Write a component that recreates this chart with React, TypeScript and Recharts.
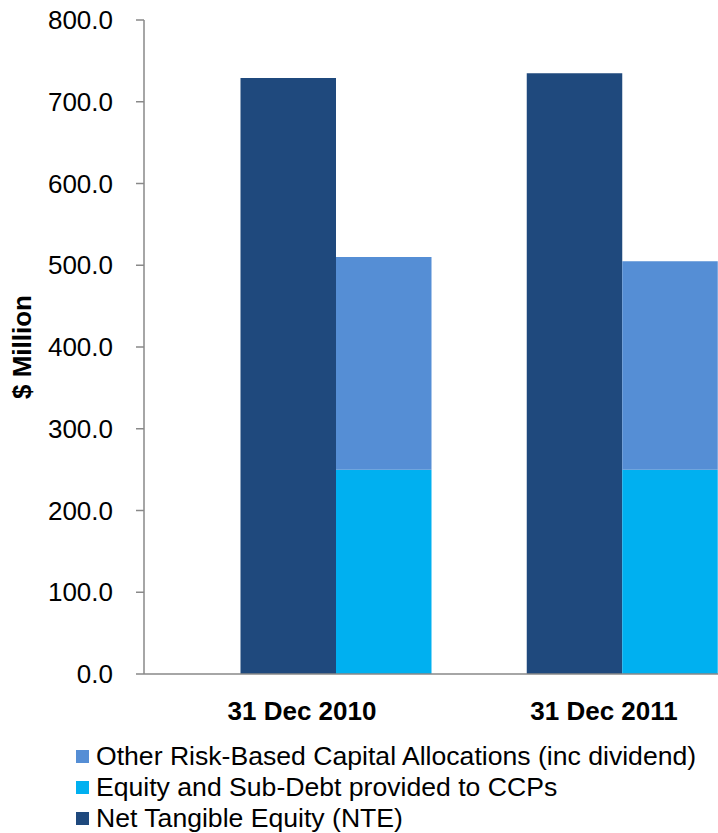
import React from 'react';
import { BarChart, Bar, XAxis, YAxis, Legend } from 'recharts';

const categories = ['31 Dec 2010', '31 Dec 2011'];
const netTangibleEquity = [729, 735];
const equitySubDebt = [250, 250];
const otherRiskCapital = [260, 255];
const yTicks = [0, 100, 200, 300, 400, 500, 600, 700, 800];

const NAVY = '#1F497D';
const CYAN = '#00B0F0';
const MID_BLUE = '#558ED5';
const AXIS_GREY = '#898989';

const data = categories.map((label, i) => ({
  label,
  nte: netTangibleEquity[i],
  equity: equitySubDebt[i],
  other: otherRiskCapital[i],
}));

const legendItems = [
  { name: 'Other Risk-Based Capital Allocations (inc dividend)', color: MID_BLUE },
  { name: 'Equity and Sub-Debt provided to CCPs', color: CYAN },
  { name: 'Net Tangible Equity (NTE)', color: NAVY },
];

const renderLegend = () => (
  <div>
    {legendItems.map((item) => (
      <div
        key={item.name}
        style={{ display: 'flex', alignItems: 'center', height: 31, fontSize: 26.6, color: '#000', whiteSpace: 'nowrap' }}
      >
        <span style={{ width: 13, height: 13, background: item.color, marginRight: 7, display: 'inline-block' }} />
        {item.name}
      </div>
    ))}
  </div>
);

const yLabel = () => (
  <text
    x={22}
    y={347}
    transform="rotate(-90, 22, 347)"
    textAnchor="middle"
    dominantBaseline="central"
    fontSize={26}
    fontWeight="bold"
    fill="#000"
  >
    $ Million
  </text>
);

export default function App() {
  return (
    <div
      style={{
        position: 'absolute',
        left: 0,
        top: 0,
        width: 718,
        height: 833,
        overflow: 'hidden',
        background: '#fff',
        fontFamily: '"Liberation Sans", Arial, sans-serif',
      }}
    >
      <BarChart
        width={765}
        height={833}
        data={data}
        margin={{ top: 20, right: 0, left: 0, bottom: 0 }}
        barGap={0}
        barSize={95.5}
      >
        <XAxis
          xAxisId="bars"
          dataKey="label"
          hide
          height={0}
          padding={{ left: 48.5, right: 0 }}
        />
        <XAxis
          xAxisId="lab"
          dataKey="label"
          height={159}
          interval={0}
          padding={{ left: 7, right: 10 }}
          axisLine={{ stroke: AXIS_GREY, strokeWidth: 1.5 }}
          tickLine={false}
          tickSize={0}
          tickMargin={28}
          tick={{ fontSize: 26, fontWeight: 'bold', fill: '#000' }}
        />
        <YAxis
          width={144}
          domain={[0, 800]}
          ticks={yTicks}
          interval={0}
          tickFormatter={(v: number) => v.toFixed(1)}
          axisLine={{ stroke: AXIS_GREY, strokeWidth: 1.5 }}
          tickLine={{ stroke: AXIS_GREY, strokeWidth: 1.5 }}
          tickSize={8}
          tickMargin={23}
          tick={{ fontSize: 26, fill: '#000' }}
          label={yLabel}
        />
        <Legend
          layout="horizontal"
          verticalAlign="middle"
          align="center"
          content={renderLegend}
          wrapperStyle={{ position: 'absolute', top: 741, left: 76, width: 640 }}
        />
        <Bar xAxisId="bars" dataKey="nte" name="Net Tangible Equity (NTE)" stackId="a" fill={NAVY} isAnimationActive={false} />
        <Bar xAxisId="bars" dataKey="equity" name="Equity and Sub-Debt provided to CCPs" stackId="b" fill={CYAN} isAnimationActive={false} />
        <Bar xAxisId="bars" dataKey="other" name="Other Risk-Based Capital Allocations (inc dividend)" stackId="b" fill={MID_BLUE} isAnimationActive={false} />
      </BarChart>
    </div>
  );
}
